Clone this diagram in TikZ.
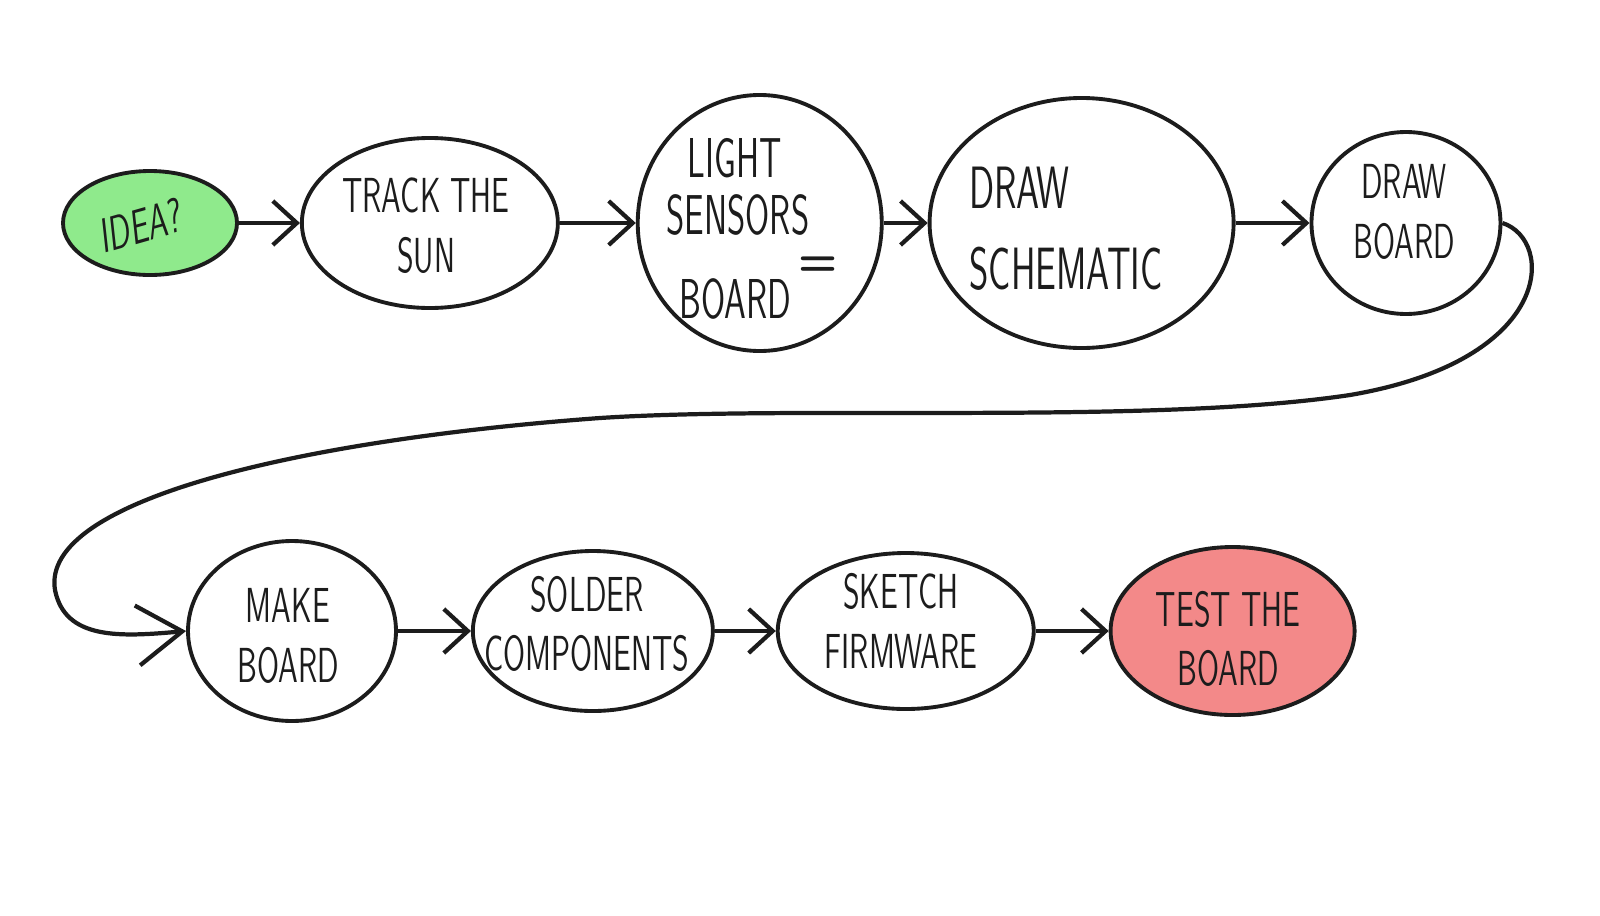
\documentclass[tikz,border=0pt]{standalone}
\usetikzlibrary{arrows.meta, positioning, shapes.geometric}
\definecolor{cink}{HTML}{1C1C1C}
\definecolor{cgreen}{HTML}{8FEA8C}
\definecolor{cred}{HTML}{F38989}
\tikzset{
  every picture/.style={font=\sffamily, line width=1.1pt},
  stage/.style={ellipse, draw=cink, fill=#1, inner sep=0pt},
  stage/.default=white,
  word/.style={font=\sffamily\fontsize{14}{17}\selectfont, text=cink, align=center, xscale=0.62, transform shape},
  arrow/.style={-{Straight Barb[length=2.4mm, width=4.4mm]}, draw=cink, line width=1.2pt},
}

\begin{document}
\begin{tikzpicture}
  \useasboundingbox (0,0) rectangle (16,-9.15);
  % ---- top row ----
  \node[stage=cgreen, minimum width=1.74cm, minimum height=1.04cm] (idea) at (1.50,-2.23) {};
  \node[stage, minimum width=2.56cm, minimum height=1.70cm, right=0.61cm of idea] (track) {};
  \node[stage, minimum width=2.44cm, minimum height=2.56cm, right=0.76cm of track] (light) {};
  \node[stage, minimum width=3.04cm, minimum height=2.50cm, right=0.44cm of light] (schem) {};
  \node[stage, minimum width=1.89cm, minimum height=1.82cm, right=0.74cm of schem] (dboard) {};
  \node[word, rotate=10] (ideat) at (1.42,-2.25) {IDEA?};
  \node[word] (trackt) at (4.26,-2.26) {TRACK THE\\SUN};
  % three lines set apart, the = mark sits between them
  \node[word, inner sep=1pt, font=\sffamily\fontsize{16}{19}\selectfont] (lighta) at (7.35,-1.58) {LIGHT};
  \node[word, inner sep=1pt, font=\sffamily\fontsize{16}{19}\selectfont] (lightb) at (7.38,-2.15) {SENSORS};
  \node[word, inner sep=1pt, font=\sffamily\fontsize{16}{19}\selectfont] (lightc) at (7.35,-2.99) {BOARD};
  \node[font=\sffamily\bfseries\fontsize{13}{13}\selectfont, text=cink, inner sep=0pt] (eqmark) at (8.18,-2.66) {=};
  \node[word, align=left, font=\sffamily\fontsize{17}{23}\selectfont] (schemt) at (10.66,-2.29) {DRAW\\SCHEMATIC};
  \node[word] (dboardt) at (14.04,-2.12) {DRAW\\BOARD};
  \draw[arrow] (idea) -- (track);
  \draw[arrow] (track) -- (light);
  \draw[arrow] (light) -- (schem);
  \draw[arrow] (schem) -- (dboard);
  % ---- bottom row ----
  \node[stage, minimum width=2.08cm, minimum height=1.80cm] (mboard) at (2.92,-6.31) {};
  \node[stage, minimum width=2.40cm, minimum height=1.60cm, right=0.73cm of mboard] (solder) {};
  \node[stage, minimum width=2.56cm, minimum height=1.56cm, right=0.61cm of solder] (sketch) {};
  \node[stage=cred, minimum width=2.44cm, minimum height=1.68cm, right=0.73cm of sketch] (test) {};
  \node[word] (mboardt) at (2.88,-6.36) {MAKE\\BOARD};
  \node[word] (soldert) at (5.87,-6.24) {SOLDER\\COMPONENTS};
  \node[word] (sketcht) at (9.01,-6.21) {SKETCH\\FIRMWARE};
  \node[word] (testt) at (12.28,-6.39) {TEST THE\\BOARD};
  \draw[arrow] (mboard) -- (solder);
  \draw[arrow] (solder) -- (sketch);
  \draw[arrow] (sketch) -- (test);
  % long return from the top row to the bottom row
  \draw[arrow, -{Straight Barb[length=4.5mm, width=6mm]}] (dboard.east)
    .. controls (15.55,-2.40) and (15.55,-3.60) .. (13.50,-3.95)
    .. controls (11.50,-4.25) and (8.00,-4.05) .. (6.00,-4.18)
    .. controls (3.00,-4.40) and (0.40,-5.00) .. (0.55,-5.90)
    .. controls (0.65,-6.40) and (1.20,-6.37) .. (mboard.west);
\end{tikzpicture}
\end{document}
